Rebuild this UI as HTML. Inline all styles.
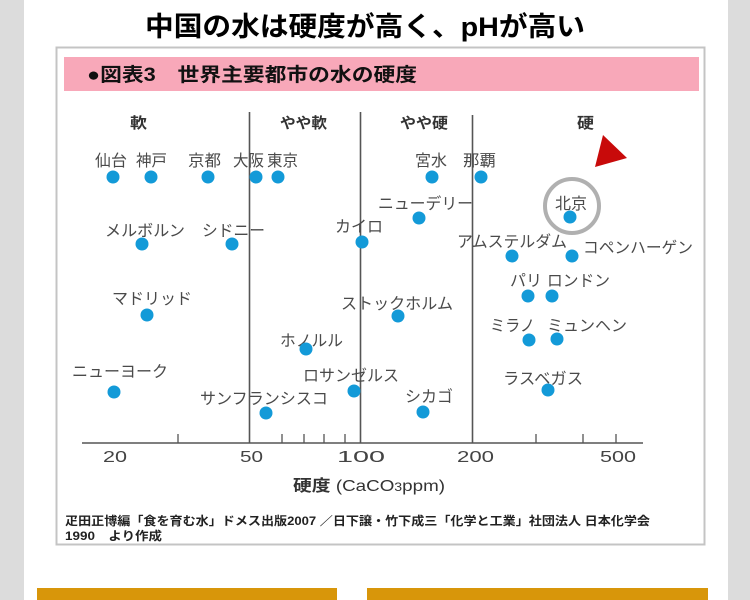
<!DOCTYPE html>
<html><head><meta charset="utf-8"><style>
html,body{margin:0;padding:0;}
body{width:750px;height:600px;overflow:hidden;background:#dcdcdc;position:relative;}
#col{position:absolute;left:24px;top:0;width:704px;height:600px;background:#fff;}
svg{position:absolute;left:0;top:0;}
text{font-family:"Liberation Sans","Noto Sans CJK JP",sans-serif;}
.lb{font-size:16px;fill:#4a4a4a;}
.cat{font-size:15px;font-weight:bold;fill:#333;}
.tk{font-size:16px;fill:#444;}
</style></head><body>
<div id="col"></div>
<svg width="750" height="600" viewBox="0 0 750 600" xmlns="http://www.w3.org/2000/svg">
<!-- title -->
<text x="145" y="36" font-size="27" font-weight="bold" fill="#000" textLength="440" lengthAdjust="spacingAndGlyphs">中国の水は硬度が高く、pHが高い</text>
<!-- box -->
<rect x="56.5" y="47.5" width="648" height="497" fill="#fff" stroke="#c4c4c4" stroke-width="2"/>
<rect x="64" y="57" width="635" height="34" fill="#f8a8b9"/>
<text x="87" y="81" font-size="19" font-weight="bold" fill="#111" textLength="330" lengthAdjust="spacingAndGlyphs">●図表3　世界主要都市の水の硬度</text>

<!-- categories -->
<text class="cat" x="130" y="128" textLength="17" lengthAdjust="spacingAndGlyphs">軟</text>
<text class="cat" x="280" y="128" textLength="47" lengthAdjust="spacingAndGlyphs">やや軟</text>
<text class="cat" x="400" y="128" textLength="48" lengthAdjust="spacingAndGlyphs">やや硬</text>
<text class="cat" x="577" y="128" textLength="17" lengthAdjust="spacingAndGlyphs">硬</text>

<!-- vertical lines -->
<g stroke="#555" stroke-width="1.6">
<line x1="249.5" y1="112" x2="249.5" y2="443"/>
<line x1="360.5" y1="112" x2="360.5" y2="443"/>
<line x1="472.5" y1="115" x2="472.5" y2="443"/>
<line x1="82" y1="443" x2="643" y2="443"/>
</g>
<g stroke="#555" stroke-width="1.3">
<line x1="178" y1="434" x2="178" y2="443"/>
<line x1="282" y1="434" x2="282" y2="443"/>
<line x1="304" y1="434" x2="304" y2="443"/>
<line x1="324" y1="434" x2="324" y2="443"/>
<line x1="345" y1="434" x2="345" y2="443"/>
<line x1="536" y1="434" x2="536" y2="443"/>
<line x1="583" y1="434" x2="583" y2="443"/>
<line x1="616" y1="434" x2="616" y2="443"/>
</g>
<!-- tick labels -->
<text class="tk" x="103" y="462" textLength="24" lengthAdjust="spacingAndGlyphs">20</text>
<text class="tk" x="240" y="462" textLength="23" lengthAdjust="spacingAndGlyphs">50</text>
<text class="tk" x="337" y="462" textLength="48" lengthAdjust="spacingAndGlyphs">100</text>
<text class="tk" x="457" y="462" textLength="37" lengthAdjust="spacingAndGlyphs">200</text>
<text class="tk" x="600" y="462" textLength="36" lengthAdjust="spacingAndGlyphs">500</text>

<!-- axis title -->
<text x="293" y="491" font-size="16" fill="#333" textLength="152" lengthAdjust="spacingAndGlyphs"><tspan font-weight="bold">硬度</tspan> (CaCO<tspan font-size="12">3</tspan>ppm)</text>

<!-- footnote -->
<text x="65" y="525" font-size="12" font-weight="bold" fill="#222" textLength="585" lengthAdjust="spacingAndGlyphs">疋田正博編「食を育む水」ドメス出版2007 ／日下譲・竹下成三「化学と工業」社団法人 日本化学会</text>
<text x="65" y="540" font-size="12" font-weight="bold" fill="#222" textLength="97" lengthAdjust="spacingAndGlyphs">1990　より作成</text>

<!-- Beijing circle & triangle -->
<circle cx="572" cy="206" r="27" fill="none" stroke="#b0b0b0" stroke-width="4"/>
<polygon points="603,135 627,158 595,167" fill="#c80a0a"/>

<!-- labels -->
<text class="lb" x="95" y="166" textLength="32" lengthAdjust="spacingAndGlyphs">仙台</text>
<text class="lb" x="136" y="166" textLength="31" lengthAdjust="spacingAndGlyphs">神戸</text>
<text class="lb" x="188" y="166" textLength="33" lengthAdjust="spacingAndGlyphs">京都</text>
<text class="lb" x="233" y="166" textLength="31" lengthAdjust="spacingAndGlyphs">大阪</text>
<text class="lb" x="267" y="166" textLength="31" lengthAdjust="spacingAndGlyphs">東京</text>
<text class="lb" x="415" y="166" textLength="32" lengthAdjust="spacingAndGlyphs">宮水</text>
<text class="lb" x="463" y="166" textLength="33" lengthAdjust="spacingAndGlyphs">那覇</text>
<text class="lb" x="378" y="209" textLength="95" lengthAdjust="spacingAndGlyphs">ニューデリー</text>
<text class="lb" x="555" y="209" textLength="32" lengthAdjust="spacingAndGlyphs">北京</text>
<text class="lb" x="105" y="236" textLength="80" lengthAdjust="spacingAndGlyphs">メルボルン</text>
<text class="lb" x="202" y="236" textLength="63" lengthAdjust="spacingAndGlyphs">シドニー</text>
<text class="lb" x="335" y="232" textLength="48" lengthAdjust="spacingAndGlyphs">カイロ</text>
<text class="lb" x="457" y="247" textLength="110" lengthAdjust="spacingAndGlyphs">アムステルダム</text>
<text class="lb" x="583" y="253" textLength="110" lengthAdjust="spacingAndGlyphs">コペンハーゲン</text>
<text class="lb" x="510" y="286" textLength="32" lengthAdjust="spacingAndGlyphs">パリ</text>
<text class="lb" x="547" y="286" textLength="63" lengthAdjust="spacingAndGlyphs">ロンドン</text>
<text class="lb" x="341" y="309" textLength="112" lengthAdjust="spacingAndGlyphs">ストックホルム</text>
<text class="lb" x="112" y="304" textLength="80" lengthAdjust="spacingAndGlyphs">マドリッド</text>
<text class="lb" x="490" y="331" textLength="45" lengthAdjust="spacingAndGlyphs">ミラノ</text>
<text class="lb" x="547" y="331" textLength="80" lengthAdjust="spacingAndGlyphs">ミュンヘン</text>
<text class="lb" x="280" y="346" textLength="63" lengthAdjust="spacingAndGlyphs">ホノルル</text>
<text class="lb" x="72" y="377" textLength="96" lengthAdjust="spacingAndGlyphs">ニューヨーク</text>
<text class="lb" x="303" y="381" textLength="96" lengthAdjust="spacingAndGlyphs">ロサンゼルス</text>
<text class="lb" x="503" y="384" textLength="80" lengthAdjust="spacingAndGlyphs">ラスベガス</text>
<text class="lb" x="200" y="404" textLength="128" lengthAdjust="spacingAndGlyphs">サンフランシスコ</text>
<text class="lb" x="405" y="402" textLength="48" lengthAdjust="spacingAndGlyphs">シカゴ</text>

<!-- dots -->
<g fill="#139ad8">
<circle cx="113" cy="177" r="6.5"/>
<circle cx="151" cy="177" r="6.5"/>
<circle cx="208" cy="177" r="6.5"/>
<circle cx="256" cy="177" r="6.5"/>
<circle cx="278" cy="177" r="6.5"/>
<circle cx="432" cy="177" r="6.5"/>
<circle cx="481" cy="177" r="6.5"/>
<circle cx="419" cy="218" r="6.5"/>
<circle cx="570" cy="217" r="6.5"/>
<circle cx="142" cy="244" r="6.5"/>
<circle cx="232" cy="244" r="6.5"/>
<circle cx="362" cy="242" r="6.5"/>
<circle cx="512" cy="256" r="6.5"/>
<circle cx="572" cy="256" r="6.5"/>
<circle cx="528" cy="296" r="6.5"/>
<circle cx="552" cy="296" r="6.5"/>
<circle cx="398" cy="316" r="6.5"/>
<circle cx="147" cy="315" r="6.5"/>
<circle cx="529" cy="340" r="6.5"/>
<circle cx="557" cy="339" r="6.5"/>
<circle cx="306" cy="349" r="6.5"/>
<circle cx="114" cy="392" r="6.5"/>
<circle cx="354" cy="391" r="6.5"/>
<circle cx="548" cy="390" r="6.5"/>
<circle cx="266" cy="413" r="6.5"/>
<circle cx="423" cy="412" r="6.5"/>
</g>

<!-- orange bars -->
<rect x="37" y="588" width="300" height="12" fill="#d8960a"/>
<rect x="367" y="588" width="341" height="12" fill="#d8960a"/>
</svg>
</body></html>
